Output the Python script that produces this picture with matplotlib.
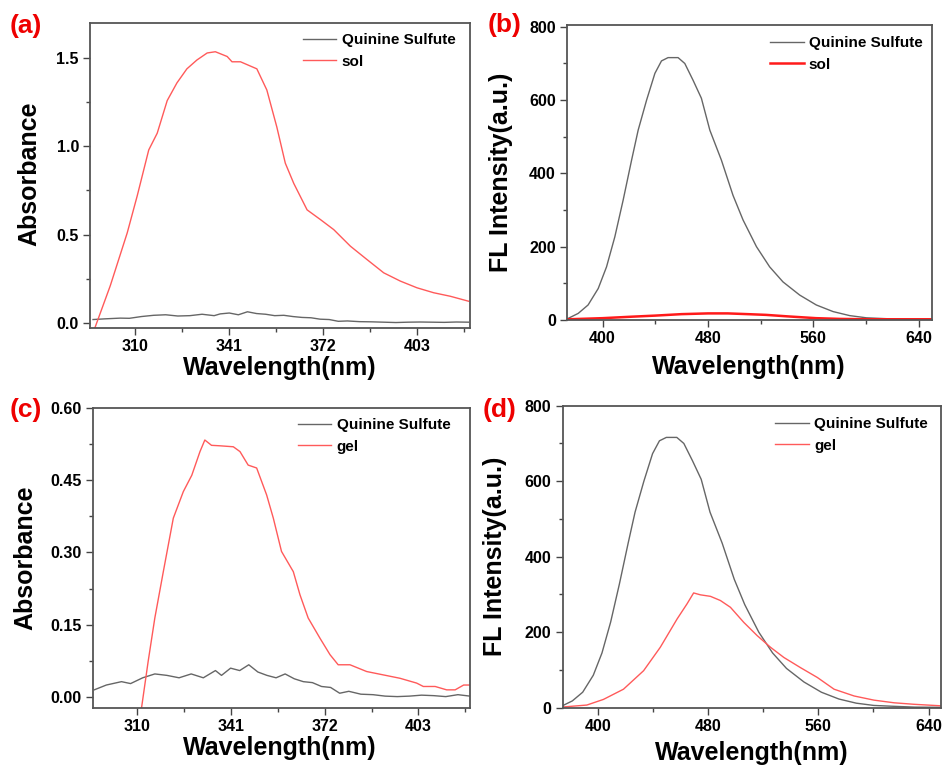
import numpy as np
import matplotlib.pyplot as plt

plt.rcParams['font.family'] = ['Liberation Sans', 'DejaVu Sans']
plt.rcParams['font.weight'] = 'bold'

# ---- absorbance, quinine sulfate reference (panels a, c)
abs_qs_wl = [296, 300, 305, 308, 312, 316, 320, 324, 328, 332, 336, 338, 341, 344, 347,
             350, 353, 356, 359, 362, 365, 368, 371, 374, 377, 380, 384, 388, 392, 396,
             400, 404, 408, 412, 416, 420]
abs_qs_a = [0.018, 0.022, 0.026, 0.025, 0.035, 0.042, 0.045, 0.038, 0.040, 0.048, 0.040, 0.050,
            0.055, 0.045, 0.062, 0.052, 0.048, 0.040, 0.042, 0.035, 0.030, 0.028, 0.020, 0.018,
            0.008, 0.010, 0.006, 0.005, 0.003, 0.001, 0.003, 0.004, 0.003, 0.002, 0.004, 0.003]
abs_qs_c = [0.015, 0.025, 0.032, 0.028, 0.040, 0.048, 0.045, 0.040, 0.048, 0.040, 0.055, 0.045,
            0.060, 0.055, 0.067, 0.052, 0.045, 0.040, 0.048, 0.038, 0.032, 0.030, 0.022, 0.020,
            0.008, 0.012, 0.006, 0.005, 0.002, 0.001, 0.002, 0.004, 0.003, 0.001, 0.005, 0.002]

# ---- absorbance, sol (panel a)
sol_wl = [296.6, 301.7, 307.3, 310.6, 314.4, 317.2, 320.5, 323.7, 327.0, 330.3, 333.7, 336.4,
          340.3, 341.9, 344.7, 347.4, 350.1, 353.4, 356.7, 359.5, 362.3, 366.7, 371.1, 375.5,
          381.0, 386.5, 392.0, 397.5, 403.0, 408.5, 414.0, 420.0]
sol_abs = [-0.03, 0.21, 0.51, 0.72, 0.98, 1.075, 1.26, 1.36, 1.44, 1.49, 1.53, 1.537,
           1.51, 1.48, 1.48, 1.46, 1.44, 1.32, 1.11, 0.905, 0.79, 0.64, 0.585, 0.528,
           0.434, 0.358, 0.283, 0.236, 0.198, 0.17, 0.15, 0.122]

# ---- absorbance, gel (panel c)
gel_wl = [311.6, 313.8, 316.0, 318.8, 322.1, 325.4, 328.2, 330.9, 332.5, 334.7, 337.5, 341.9,
          344.1, 346.8, 349.6, 352.9, 355.1, 357.8, 361.7, 363.9, 366.6, 370.5, 373.8, 376.5,
          380.4, 385.9, 391.4, 396.9, 402.4, 404.6, 408.5, 412.3, 415.1, 417.9, 420.0]
gel_abs = [-0.023, 0.074, 0.164, 0.26, 0.371, 0.426, 0.46, 0.509, 0.533, 0.522, 0.521, 0.519,
           0.509, 0.481, 0.475, 0.419, 0.371, 0.302, 0.26, 0.212, 0.164, 0.122, 0.088, 0.067,
           0.067, 0.053, 0.046, 0.039, 0.029, 0.022, 0.022, 0.015, 0.015, 0.025, 0.025]

# ---- fluorescence, quinine sulfate (panels b, d)
fl_wl = [374, 381.5, 389, 396.7, 403, 409.3, 415.6, 422, 427, 433.4, 439.7, 444.7, 449.7,
         457.3, 462.4, 468.7, 475, 481.4, 490.2, 499, 506.6, 516.8, 526.8, 536.9, 549.6,
         562.2, 574.9, 587.5, 600.2, 612.7, 630, 650]
fl_qs = [4.6, 18, 41, 86, 145, 227, 327, 436, 518, 600, 673, 707, 716,
         716, 700, 654, 605, 518, 436, 340, 273, 200, 145, 104, 68,
         41, 23, 12, 6, 4, 1.5, 1]

# ---- fluorescence, sol (panel b)
fl_sol_wl = [374, 400, 422, 440, 460, 480, 495, 510, 524, 540, 562, 580, 600, 650]
fl_sol = [2, 5, 9, 12, 16, 18, 18, 16, 14, 10, 5, 3, 2, 2]

# ---- fluorescence, gel (panel d)
fl_gel_wl = [375, 392, 404.1, 418.6, 433.2, 445.3, 457.5, 464.7, 469.5, 474.4, 481.7, 488.9,
             496.2, 505.9, 515.6, 525.3, 535, 547.1, 559.3, 571.4, 586, 600.4, 615, 629.5, 649]
fl_gel = [2, 7, 22, 49, 98, 160, 235, 275, 304, 299, 295, 284,
          266, 226, 191, 160, 133, 106, 80, 49, 31, 20, 13, 9, 5]

abs_ticks = [310, 341, 372, 403]
fl_ticks = [400, 480, 560, 640]

fig = plt.figure(figsize=(9.42, 7.66), dpi=100)
W, H = 942, 766


def make_ax(l, t, r, b):
    return fig.add_axes([l / W, 1 - b / H, (r - l) / W, (b - t) / H])


ax_a = make_ax(90, 23, 470, 328)
ax_b = make_ax(567, 25, 932, 320)
ax_c = make_ax(92.7, 407.7, 470, 707.7)
ax_d = make_ax(562.7, 405.7, 941, 707.7)

gray = '#666666'
lred = '#ff5a5a'

ax_a.plot(abs_qs_wl, abs_qs_a, color=gray, lw=1.0, label='Quinine Sulfute')
ax_a.plot(sol_wl, sol_abs, color=lred, lw=1.0, label='sol')
ax_b.plot(fl_wl, fl_qs, color=gray, lw=1.0, label='Quinine Sulfute')
ax_b.plot(fl_sol_wl, fl_sol, color='#ff1a1a', lw=1.8, label='sol')
ax_c.plot(abs_qs_wl, abs_qs_c, color=gray, lw=1.0, label='Quinine Sulfute')
ax_c.plot(gel_wl, gel_abs, color=lred, lw=1.0, label='gel')
ax_d.plot(fl_wl, fl_qs, color=gray, lw=1.0, label='Quinine Sulfute')
ax_d.plot(fl_gel_wl, fl_gel, color=lred, lw=1.0, label='gel')

ax_a.set_xlim(295, 420.5)
ax_a.set_ylim(-0.03, 1.70)
ax_a.set_yticks([0.0, 0.5, 1.0, 1.5])
ax_a.set_yticklabels(['0.0', '0.5', '1.0', '1.5'])
ax_c.set_xlim(295.5, 420)
ax_c.set_ylim(-0.022, 0.60)
ax_c.set_yticks([0.0, 0.15, 0.30, 0.45, 0.60])
ax_c.set_yticklabels(['0.00', '0.15', '0.30', '0.45', '0.60'])
for ax in (ax_a, ax_c):
    ax.set_xticks(abs_ticks)
    ax.set_xticks([325.5, 356.5, 387.5, 418.5], minor=True)
for ax in (ax_b, ax_d):
    ax.set_xticks(fl_ticks)
    ax.set_xticks([440, 520, 600], minor=True)
    ax.set_yticks([0, 200, 400, 600, 800])
    ax.set_yticks([100, 300, 500, 700], minor=True)
ax_b.set_xlim(373, 650)
ax_b.set_ylim(0, 805)
ax_d.set_xlim(374.5, 649)
ax_d.set_ylim(0, 800)
ax_a.set_yticks([0.25, 0.75, 1.25], minor=True)
ax_c.set_yticks([0.075, 0.225, 0.375, 0.525], minor=True)

for ax in (ax_a, ax_b, ax_c, ax_d):
    for s in ax.spines.values():
        s.set_color('#555555')
        s.set_linewidth(1.3)
    ax.tick_params(which='both', direction='out', top=False, right=False,
                   labelsize=11.5, color='#444444', width=1.0)
    ax.tick_params(which='major', length=5, pad=3)
    ax.tick_params(which='minor', length=3)
    for lab in ax.get_xticklabels() + ax.get_yticklabels():
        lab.set_fontweight('bold')

# axis labels
label_pos = {
    ax_a: ('Absorbance', (0.5, -0.131), (-0.16, 0.505)),
    ax_b: ('FL Intensity(a.u.)', (0.499, -0.159), (-0.18, 0.502)),
    ax_c: ('Absorbance', (0.496, -0.134), (-0.179, 0.5)),
    ax_d: ('FL Intensity(a.u.)', (0.499, -0.15), (-0.178, 0.5)),
}
for ax, (ylab, xpos, ypos) in label_pos.items():
    ax.set_xlabel('Wavelength(nm)', fontsize=18, fontweight='bold', va='center')
    ax.set_ylabel(ylab, fontsize=18, fontweight='bold', va='center')
    ax.xaxis.set_label_coords(*xpos)
    ax.yaxis.set_label_coords(*ypos)

# legends
leg_pos = {ax_a: (0.56, 0.967), ax_b: (0.556, 0.963), ax_c: (0.543, 0.965), ax_d: (0.562, 0.962)}
for ax, pos in leg_pos.items():
    ax.legend(loc='upper left', bbox_to_anchor=pos, frameon=False, borderpad=0,
              borderaxespad=0, handlelength=2.2, handletextpad=0.35, labelspacing=0.5,
              prop={'size': 11, 'weight': 'bold'})

# panel letters
for txt, x, y in [('(a)', 10, 26), ('(b)', 488, 25), ('(c)', 10, 410), ('(d)', 483, 410)]:
    fig.text(x / W, 1 - y / H, txt, color='#ee0000', fontsize=19, fontweight='bold',
             ha='left', va='center')

fig.savefig('out.png', dpi=100)
